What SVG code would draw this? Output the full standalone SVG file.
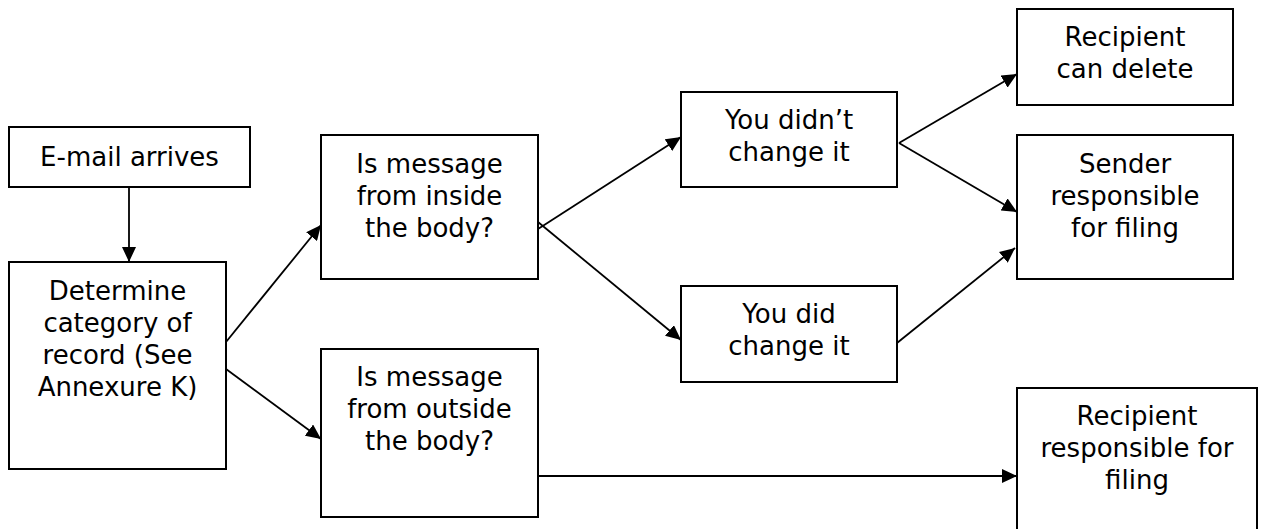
<svg xmlns="http://www.w3.org/2000/svg" width="1263" height="529" viewBox="0 0 1263 529">
<style>
.box{fill:#fff;stroke:#000;stroke-width:2}
.lbl{font-family:"DejaVu Sans","Liberation Sans",sans-serif;font-size:26px;fill:#000;text-anchor:middle}
.con{stroke:#000;stroke-width:1.8;fill:none;marker-end:url(#ah)}
</style>
<defs>
<marker id="ah" markerUnits="userSpaceOnUse" markerWidth="15" markerHeight="14" viewBox="0 0 15 14" refX="15" refY="7" orient="auto">
<path d="M0,0 L15,7 L0,14 z" fill="#000"/>
</marker>
</defs>
<rect width="1263" height="529" fill="#fff"/>
<g id="connectors">
<line class="con" x1="129" y1="187" x2="129" y2="262"/>
<line class="con" x1="226" y1="342" x2="321" y2="225"/>
<line class="con" x1="226" y1="369" x2="321" y2="439"/>
<line class="con" x1="538" y1="229" x2="681" y2="137"/>
<line class="con" x1="538" y1="222" x2="681" y2="340"/>
<line class="con" x1="899" y1="143" x2="1017" y2="74"/>
<line class="con" x1="899" y1="143" x2="1017" y2="212"/>
<line class="con" x1="897" y1="343" x2="1015" y2="248"/>
<line class="con" x1="538" y1="476" x2="1017" y2="476"/>
</g>
<g id="email">
<rect class="box" x="9" y="127" width="241" height="60"/>
<text class="lbl" x="129.5" y="166">E-mail arrives</text>
</g>
<g id="determine">
<rect class="box" x="9" y="262" width="217" height="207"/>
<text class="lbl" x="117.5" y="300">Determine</text>
<text class="lbl" x="117.5" y="332">category of</text>
<text class="lbl" x="117.5" y="364">record (See</text>
<text class="lbl" x="117.5" y="396">Annexure K)</text>
</g>
<g id="inside">
<rect class="box" x="321" y="135" width="217" height="144"/>
<text class="lbl" x="429.5" y="173">Is message</text>
<text class="lbl" x="429.5" y="205">from inside</text>
<text class="lbl" x="429.5" y="237">the body?</text>
</g>
<g id="outside">
<rect class="box" x="321" y="349" width="217" height="168"/>
<text class="lbl" x="429.5" y="386">Is message</text>
<text class="lbl" x="429.5" y="418">from outside</text>
<text class="lbl" x="429.5" y="450">the body?</text>
</g>
<g id="didnt">
<rect class="box" x="681" y="92" width="216" height="95"/>
<text class="lbl" x="789" y="129">You didn’t</text>
<text class="lbl" x="789" y="161">change it</text>
</g>
<g id="did">
<rect class="box" x="681" y="286" width="216" height="96"/>
<text class="lbl" x="789" y="323">You did</text>
<text class="lbl" x="789" y="355">change it</text>
</g>
<g id="candelete">
<rect class="box" x="1017" y="9" width="216" height="96"/>
<text class="lbl" x="1125" y="46">Recipient</text>
<text class="lbl" x="1125" y="78">can delete</text>
</g>
<g id="sender">
<rect class="box" x="1017" y="135" width="216" height="144"/>
<text class="lbl" x="1125" y="173">Sender</text>
<text class="lbl" x="1125" y="205">responsible</text>
<text class="lbl" x="1125" y="237">for filing</text>
</g>
<g id="recipient">
<rect class="box" x="1017" y="388" width="240" height="143"/>
<text class="lbl" x="1137" y="425">Recipient</text>
<text class="lbl" x="1137" y="457">responsible for</text>
<text class="lbl" x="1137" y="489">filing</text>
</g>
</svg>
